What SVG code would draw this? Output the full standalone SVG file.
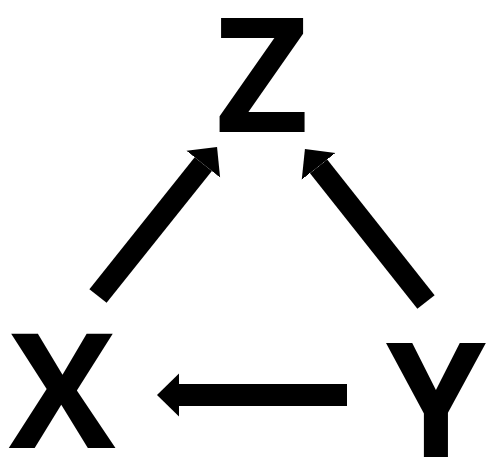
<svg xmlns="http://www.w3.org/2000/svg" width="497" height="476" viewBox="0 0 497 476">
<style>
.lbl{font-family:"Open Sans","DejaVu Sans",sans-serif;font-weight:700;font-size:160px;fill:#000;text-anchor:middle}
.edge{stroke:#000;stroke-width:22;fill:none;stroke-linecap:butt}
</style>
<defs>
<marker id="ah" markerUnits="userSpaceOnUse" viewBox="0 -22 22 44" refX="0" refY="0" markerWidth="22" markerHeight="44" orient="auto">
<path d="M0,-21.5 L22,0 L0,21.5 z" fill="#000"/>
</marker>
</defs>
<rect width="497" height="476" fill="#fff"/>
<g id="edges">
<line class="edge" x1="98" y1="296" x2="203.3" y2="164.2" marker-end="url(#ah)"/>
<line class="edge" x1="426" y1="302" x2="318.6" y2="166.3" marker-end="url(#ah)"/>
<line class="edge" x1="347" y1="395" x2="179" y2="395" marker-end="url(#ah)"/>
</g>
<g id="Z"><text class="lbl" x="262" y="132">Z</text></g>
<g id="X"><text class="lbl" x="62" y="448">X</text></g>
<g id="Y"><text class="lbl" x="436" y="457">Y</text></g>
</svg>
